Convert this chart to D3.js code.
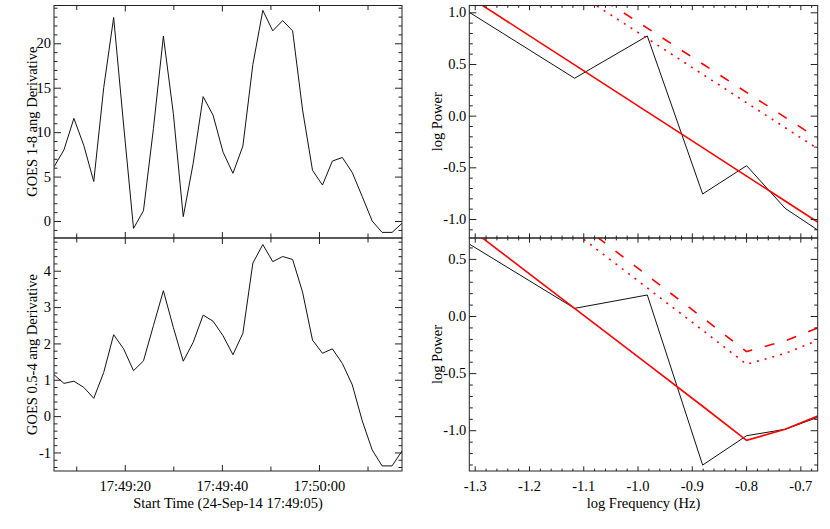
<!DOCTYPE html>
<html><head><meta charset="utf-8">
<script src="https://cdn.jsdelivr.net/npm/d3@7"></script>
<style>
body{margin:0;background:#fff}
svg{display:block}
text{font-family:"Liberation Serif","Times New Roman",serif;font-size:14.5px;fill:#000}
</style></head>
<body><svg id="c" width="830" height="529"></svg>
<script>
// ---- data ----
// seconds after 17:49:05 (2.048 s GOES cadence)
const timeSec = [0.42,2.47,4.52,6.56,8.61,10.66,12.71,14.76,16.80,18.85,20.90,22.95,25.00,27.04,29.09,31.14,33.19,35.24,37.28,39.33,41.38,43.43,45.48,47.52,49.57,51.62,53.67,55.72,57.76,59.81,61.86,63.91,65.96,68.00,70.05,72.10];
const goes18Deriv = [6.1,8.0,11.55,8.5,4.45,15.0,22.9,10.8,-0.83,1.16,10.4,20.8,12.1,0.49,6.5,14.0,11.9,7.75,5.37,8.44,17.6,23.7,21.4,22.55,21.4,12.5,5.7,4.05,6.75,7.15,5.45,2.75,0.0,-1.28,-1.28,-0.26];
const goes054Deriv = [1.14,0.90,0.96,0.79,0.49,1.20,2.24,1.85,1.25,1.52,2.49,3.45,2.44,1.51,2.03,2.78,2.61,2.21,1.69,2.28,4.21,4.72,4.25,4.39,4.31,3.41,2.09,1.73,1.85,1.45,0.86,-0.13,-0.93,-1.37,-1.37,-0.96];

const logFreq = [-1.310,-1.116,-0.982,-0.880,-0.799,-0.728,-0.668];
const powTop   = [1.00,0.362,0.771,-0.758,-0.484,-0.897,-1.107];
const fitTop   = [1.149,0.491,0.037,-0.310,-0.585,-0.826,-1.030];
const sig1Top  = [1.959,1.301,0.847,0.500,0.225,-0.016,-0.220]; // dashed
const sig2Top  = [1.859,1.201,0.747,0.400,0.125,-0.116,-0.320]; // dotted
const powBot   = [0.630,0.067,0.184,-1.305,-1.048,-0.992,-0.887];
const fitBot   = [0.771,0.067,-0.419,-0.790,-1.088,-0.992,-0.876];
const sig1Bot  = [1.546,0.842,0.356,-0.015,-0.312,-0.217,-0.105]; // dashed
const sig2Bot  = [1.436,0.732,0.246,-0.125,-0.423,-0.327,-0.214]; // dotted

const timeMajor = [15,35,55];
const timeMajorLabels = ["17:49:20","17:49:40","17:50:00"];
const timeMinor = [5,25,45,65];
const y18Major = [0,5,10,15,20];
const y054Major = [-1,0,1,2,3,4];
const powMajorTop = [-1.0,-0.5,0.0,0.5,1.0];
const powMajorBot = [-1.0,-0.5,0.0,0.5];
const freqMajor = [-1.3,-1.2,-1.1,-1.0,-0.9,-0.8,-0.7];

// ---- layout ----
const svg = d3.select("#c");
const LX = [54,402], RX = [469.3,817.7], TY = [5.5,238], BY = [238,471];

function range(a,b,s){const o=[];for(let v=a;v<=b+1e-9;v+=s)o.push(+v.toFixed(6));return o;}

let clipId = 0;
function panel(o){
  const x = o.x, y = o.y;
  const [x0,x1] = x.range(), [y1,y0] = y.range();
  const g = svg.append("g");
  const id = "clip"+(clipId++);
  svg.append("clipPath").attr("id",id).append("rect")
     .attr("x",x0).attr("y",y0).attr("width",x1-x0).attr("height",y1-y0);
  const pg = g.append("g").attr("clip-path","url(#"+id+")");
  o.lines.forEach(l=>{
    pg.append("path").datum(l.v)
      .attr("fill","none").attr("stroke",l.c).attr("stroke-width",l.w)
      .attr("stroke-dasharray",l.d||null).attr("stroke-linejoin","miter")
      .attr("d",d3.line().x((d,i)=>x(o.xs[i])).y(d=>y(d)));
  });
  const style = a=>{a.select(".domain").remove();a.attr("font-family",null).attr("font-size",null);
    a.selectAll("line").attr("stroke","#222");};
  // left
  g.append("g").attr("transform",`translate(${x0},0)`)
   .call(d3.axisLeft(y).tickValues(o.yMajor).tickSize(-7).tickPadding(3).tickFormat(o.yFmt)).call(style);
  g.append("g").attr("transform",`translate(${x0},0)`)
   .call(d3.axisLeft(y).tickValues(o.yMinor).tickSize(-3.5).tickFormat("")).call(style);
  // right
  g.append("g").attr("transform",`translate(${x1},0)`)
   .call(d3.axisRight(y).tickValues(o.yMajor).tickSize(-7).tickFormat("")).call(style);
  g.append("g").attr("transform",`translate(${x1},0)`)
   .call(d3.axisRight(y).tickValues(o.yMinor).tickSize(-3.5).tickFormat("")).call(style);
  // bottom
  g.append("g").attr("transform",`translate(0,${y1})`)
   .call(d3.axisBottom(x).tickValues(o.xMajor).tickSize(-o.xMajLen).tickPadding(10)
     .tickFormat(o.xFmt?((d,i)=>o.xFmt(d,i)):"")).call(style);
  g.append("g").attr("transform",`translate(0,${y1})`)
   .call(d3.axisBottom(x).tickValues(o.xMinor).tickSize(-o.xMinLen).tickFormat("")).call(style);
  // top
  g.append("g").attr("transform",`translate(0,${y0})`)
   .call(d3.axisTop(x).tickValues(o.xMajor).tickSize(-o.xMajLen).tickFormat("")).call(style);
  g.append("g").attr("transform",`translate(0,${y0})`)
   .call(d3.axisTop(x).tickValues(o.xMinor).tickSize(-o.xMinLen).tickFormat("")).call(style);
  // frame
  g.append("rect").attr("x",x0).attr("y",y0).attr("width",x1-x0).attr("height",y1-y0)
   .attr("fill","none").attr("stroke","#222").attr("stroke-width",1);
  // y title
  g.append("text").attr("transform",`translate(${o.yTitleX},${(y0+y1)/2}) rotate(-90)`)
   .attr("text-anchor","middle").attr("dy","0.35em").text(o.yTitle);
  if(o.xTitle){
    g.append("text").attr("x",(x0+x1)/2).attr("y",508).attr("text-anchor","middle").text(o.xTitle);
  }
}

const xTime = d3.scaleLinear().domain([timeSec[0],timeSec[timeSec.length-1]]).range(LX);
const xFreq = d3.scaleLinear().domain([logFreq[0],logFreq[logFreq.length-1]]).range(RX);

const y18 = d3.scaleLinear().domain([-1.91,24.25]).range([TY[1],TY[0]]);
const y054 = d3.scaleLinear().domain([-1.51,4.90]).range([BY[1],BY[0]]);
const yPT = d3.scaleLinear().domain([-1.184,1.066]).range([TY[1],TY[0]]);
const yPB = d3.scaleLinear().domain([-1.357,0.683]).range([BY[1],BY[0]]);

const black = v=>({v,c:"#111",w:1});
const fmt1 = d=>d3.format(".1f")(d).replace("−","-");
const fmtI = d=>String(d);

panel({x:xTime,y:y18,xs:timeSec,lines:[black(goes18Deriv)],
  yMajor:y18Major,yMinor:range(-1,24,1).filter(v=>v%5!==0),yFmt:fmtI,
  xMajor:timeMajor,xMinor:timeMinor,xMajLen:6,xMinLen:4.5,xFmt:null,
  yTitle:"GOES 1-8 ang Derivative",yTitleX:31.5});
panel({x:xTime,y:y054,xs:timeSec,lines:[black(goes054Deriv)],
  yMajor:y054Major,yMinor:range(-1.4,4.8,0.2).filter(v=>Math.abs(v-Math.round(v))>1e-6),yFmt:fmtI,
  xMajor:timeMajor,xMinor:timeMinor,xMajLen:6,xMinLen:4.5,xFmt:(d,i)=>timeMajorLabels[i],
  yTitle:"GOES 0.5-4 ang Derivative",yTitleX:31.5,xTitle:"Start Time (24-Sep-14 17:49:05)"});
const freqMinor = range(-1.30,-0.68,0.02).filter(v=>Math.abs(v*10-Math.round(v*10))>1e-6);
panel({x:xFreq,y:yPT,xs:logFreq,lines:[black(powTop),
    {v:fitTop,c:"#ff0000",w:1.6},{v:sig1Top,c:"#ff0000",w:1.6,d:"10,13"},{v:sig2Top,c:"#ff0000",w:1.6,d:"2,6"}],
  yMajor:powMajorTop,yMinor:range(-1.1,1.0,0.1).filter(v=>Math.abs(v*2-Math.round(v*2))>1e-6),yFmt:fmt1,
  xMajor:freqMajor,xMinor:freqMinor,xMajLen:4.7,xMinLen:2.4,xFmt:null,
  yTitle:"log Power",yTitleX:436.5});
panel({x:xFreq,y:yPB,xs:logFreq,lines:[black(powBot),
    {v:fitBot,c:"#ff0000",w:1.6},{v:sig1Bot,c:"#ff0000",w:1.6,d:"10,13"},{v:sig2Bot,c:"#ff0000",w:1.6,d:"2,6"}],
  yMajor:powMajorBot,yMinor:range(-1.3,0.6,0.1).filter(v=>Math.abs(v*2-Math.round(v*2))>1e-6),yFmt:fmt1,
  xMajor:freqMajor,xMinor:freqMinor,xMajLen:4.7,xMinLen:2.4,xFmt:d=>fmt1(d),
  yTitle:"log Power",yTitleX:436.5,xTitle:"log Frequency (Hz)"});
</script></body></html>
